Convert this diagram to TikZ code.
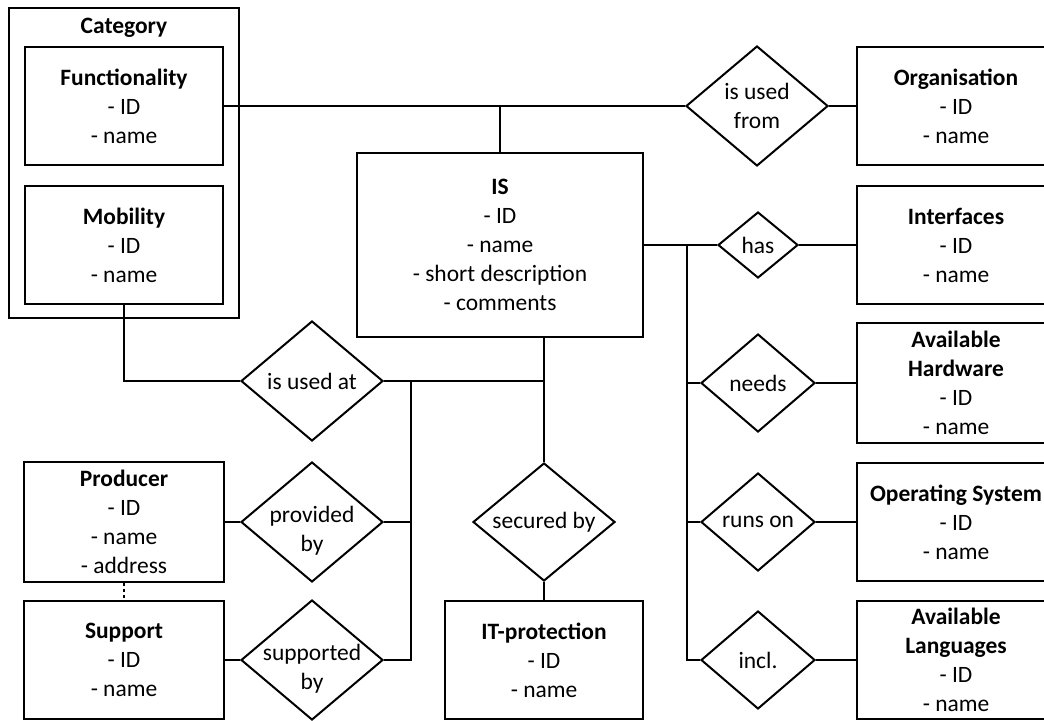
\documentclass[tikz,border=0pt]{standalone}
\usepackage{fontspec}
\setmainfont{Carlito}
\usetikzlibrary{shapes.geometric}
\begin{document}
\begin{tikzpicture}[x=0.75pt,y=-0.75pt,
  every node/.style={font=\fontsize{17.6}{21.75}\selectfont, align=center},
  box/.style 2 args={draw, line width=1.5pt, inner sep=0pt,
    minimum width=#1*0.75pt, minimum height=#2*0.75pt},
  rel/.style 2 args={draw, diamond, line width=1.5pt, inner sep=0pt,
    minimum width=#1*0.75pt, minimum height=#2*0.75pt},
  link/.style={line width=1.5pt},
]
\useasboundingbox (0,0) rectangle (1044,720);
\clip (0,0) rectangle (1044,720);

% entities
\node[box={230}{310}] (category) at (124,163) {};
\node (cattitle) at (124,28) {\textbf{Category}};
\node[box={198}{118}] (func) at (124,106) {\textbf{Functionality}\\- ID\\- name};
\node[box={198}{118}] (mob) at (124,245) {\textbf{Mobility}\\- ID\\- name};
\node[box={286}{184}] (is) at (500,245) {\textbf{IS}\\- ID\\- name\\- short description\\- comments};
\node[box={198}{118}] (org) at (956,106) {\textbf{Organisation}\\- ID\\- name};
\node[box={198}{118}] (iface) at (956,245) {\textbf{Interfaces}\\- ID\\- name};
\node[box={198}{120}] (hw) at (956,383) {\textbf{Available}\\\textbf{Hardware}\\- ID\\- name};
\node[box={198}{118}] (os) at (956,522) {\textbf{Operating System}\\- ID\\- name};
\node[box={198}{118}] (lang) at (956,660) {\textbf{Available}\\\textbf{Languages}\\- ID\\- name};
\node[box={200}{120}] (prod) at (124,522) {\textbf{Producer}\\- ID\\- name\\- address};
\node[box={200}{118}] (supp) at (124,660) {\textbf{Support}\\- ID\\- name};
\node[box={198}{118}] (itp) at (544,660) {\textbf{IT-protection}\\- ID\\- name};

% relationships
\node[rel={142}{120}, label={center:is used\\from}] (usedfrom) at (757,106) {};
\node[rel={80}{66}, label={center:has}] (has) at (758,245) {};
\node[rel={114}{98}, label={center:needs}] (needs) at (758,383) {};
\node[rel={114}{98}, label={center:runs on}] (runs) at (758,522) {};
\node[rel={114}{98}, label={center:incl.}] (incl) at (758,660) {};
\node[rel={142}{120}, label={center:is used at}] (usedat) at (312,381) {};
\node[rel={142}{120}, label={[yshift=-6.5pt]center:provided\\by}] (prov) at (312,522) {};
\node[rel={142}{120}, label={[yshift=-6.5pt]center:supported\\by}] (suppd) at (312,660) {};
\node[rel={142}{118}, label={center:secured by}] (sec) at (544,522) {};

% connectors
\draw[link] (func.east) -- (usedfrom.west);
\draw[link] (usedfrom.east) -- (org.west);
\draw[link] (is.north) -- (is.north |- usedfrom.west);
\draw[link] (is.east) -- (has.west);
\draw[link] (has.east) -- (iface.west);
\coordinate (trunk) at (687,245);
\draw[link] (trunk) |- (incl.west);
\draw[link] (trunk |- needs.west) -- (needs.west);
\draw[link] (trunk |- runs.west) -- (runs.west);
\draw[link] (needs.east) -- (hw.west);
\draw[link] (runs.east) -- (os.west);
\draw[link] (incl.east) -- (lang.west);
\draw[link] (mob.south) |- (usedat.west);
\draw[link] (usedat.east) -- (sec.north |- usedat.east);
\draw[link] (sec.north |- is.south) -- (sec.north);
\draw[link] (sec.south) -- (itp.north);
\coordinate (fork) at (411,381);
\draw[link] (fork) |- (suppd.east);
\draw[link] (prov.east) -- (prov.east -| fork);
\draw[link] (prod.east) -- (prov.west);
\draw[link] (supp.east) -- (suppd.west);
\draw[link, dash pattern=on 2.5pt off 2pt] (prod.south) -- (supp.north);
\end{tikzpicture}
\end{document}
